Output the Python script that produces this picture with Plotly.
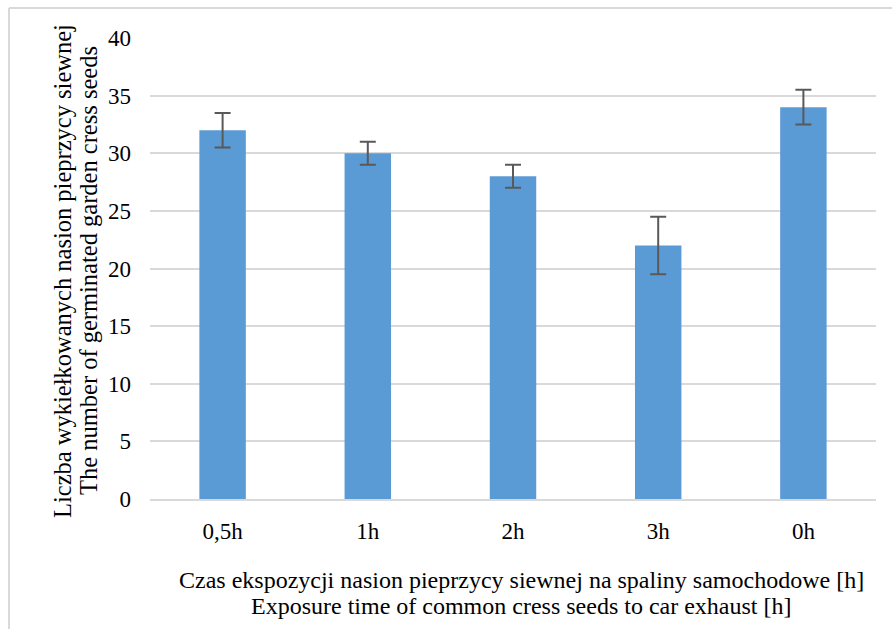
import plotly.graph_objects as go

categories = ["0,5h", "1h", "2h", "3h", "0h"]
values = [32, 30, 28, 22, 34]
errors = [1.5, 1.0, 1.0, 2.5, 1.5]
y_ticks = [0, 5, 10, 15, 20, 25, 30, 35, 40]

x_title_lines = ["Czas ekspozycji nasion pieprzycy siewnej na spaliny samochodowe [h]",
                 "Exposure time of common cress seeds to car exhaust [h]"]
y_title_lines = ["Liczba wykiełkowanych nasion pieprzycy siewnej",
                 "The number of germinated garden cress seeds"]

W, H = 892, 629
ml, mr, mt, mb = 150, 16, 38, 130
pw = W - ml - mr
ph = H - mt - mb

def px_to_paper_x(px):
    return (px - ml) / pw

def px_to_paper_y(py):
    return (H - mb - py) / ph

FONT = "Liberation Serif"
BLACK = "#000000"

fig = go.Figure()
fig.add_trace(go.Bar(
    x=categories, y=values,
    marker=dict(color="#5b9bd5", line=dict(width=0)),
    width=0.32,
    error_y=dict(type="data", array=errors, visible=True,
                 color="#595959", thickness=2, width=8),
    hoverinfo="skip",
))

annotations = [
    dict(text=x_title_lines[0], xref="paper", yref="paper",
         x=px_to_paper_x(521), y=px_to_paper_y(580), xanchor="center", yanchor="middle",
         showarrow=False, font=dict(family=FONT, size=24, color=BLACK)),
    dict(text=x_title_lines[1], xref="paper", yref="paper",
         x=px_to_paper_x(521), y=px_to_paper_y(606), xanchor="center", yanchor="middle",
         showarrow=False, font=dict(family=FONT, size=24, color=BLACK)),
    dict(text=y_title_lines[0], xref="paper", yref="paper", textangle=-90,
         x=px_to_paper_x(62), y=px_to_paper_y(271), xanchor="center", yanchor="middle",
         showarrow=False, font=dict(family=FONT, size=24.5, color=BLACK)),
    dict(text=y_title_lines[1], xref="paper", yref="paper", textangle=-90,
         x=px_to_paper_x(88), y=px_to_paper_y(271), xanchor="center", yanchor="middle",
         showarrow=False, font=dict(family=FONT, size=24.5, color=BLACK)),
]

fig.update_layout(
    width=W, height=H,
    margin=dict(l=ml, r=mr, t=mt, b=mb),
    paper_bgcolor="white", plot_bgcolor="white",
    font=dict(family=FONT, color=BLACK, size=22),
    showlegend=False,
    xaxis=dict(
        showgrid=False, showline=True, linecolor="#d9d9d9", linewidth=2,
        ticks="", tickfont=dict(family=FONT, size=23, color=BLACK), ticklabelstandoff=10,
    ),
    yaxis=dict(
        range=[0, 40], tickvals=y_ticks, showgrid=True, gridcolor="#d9d9d9", gridwidth=2,
        zeroline=False, showline=False, ticks="", tickfont=dict(family=FONT, size=23, color=BLACK),
        ticklabelstandoff=18,
    ),
    annotations=annotations,
    shapes=[
        dict(type="line", xref="paper", yref="paper",
             x0=px_to_paper_x(9), x1=px_to_paper_x(892), y0=px_to_paper_y(8), y1=px_to_paper_y(8),
             line=dict(color="#d9d9d9", width=2)),
        dict(type="line", xref="paper", yref="paper",
             x0=px_to_paper_x(9), x1=px_to_paper_x(9), y0=px_to_paper_y(8), y1=px_to_paper_y(629),
             line=dict(color="#d9d9d9", width=2)),
    ],
)

fig.write_html("out.html", config={"displayModeBar": False})

with open("out.html", "r", encoding="utf-8") as f:
    html = f.read()
html = html.replace("<head>", "<head><style>html,body{margin:0;padding:0;overflow:hidden;}</style>", 1)
with open("out.html", "w", encoding="utf-8") as f:
    f.write(html)
